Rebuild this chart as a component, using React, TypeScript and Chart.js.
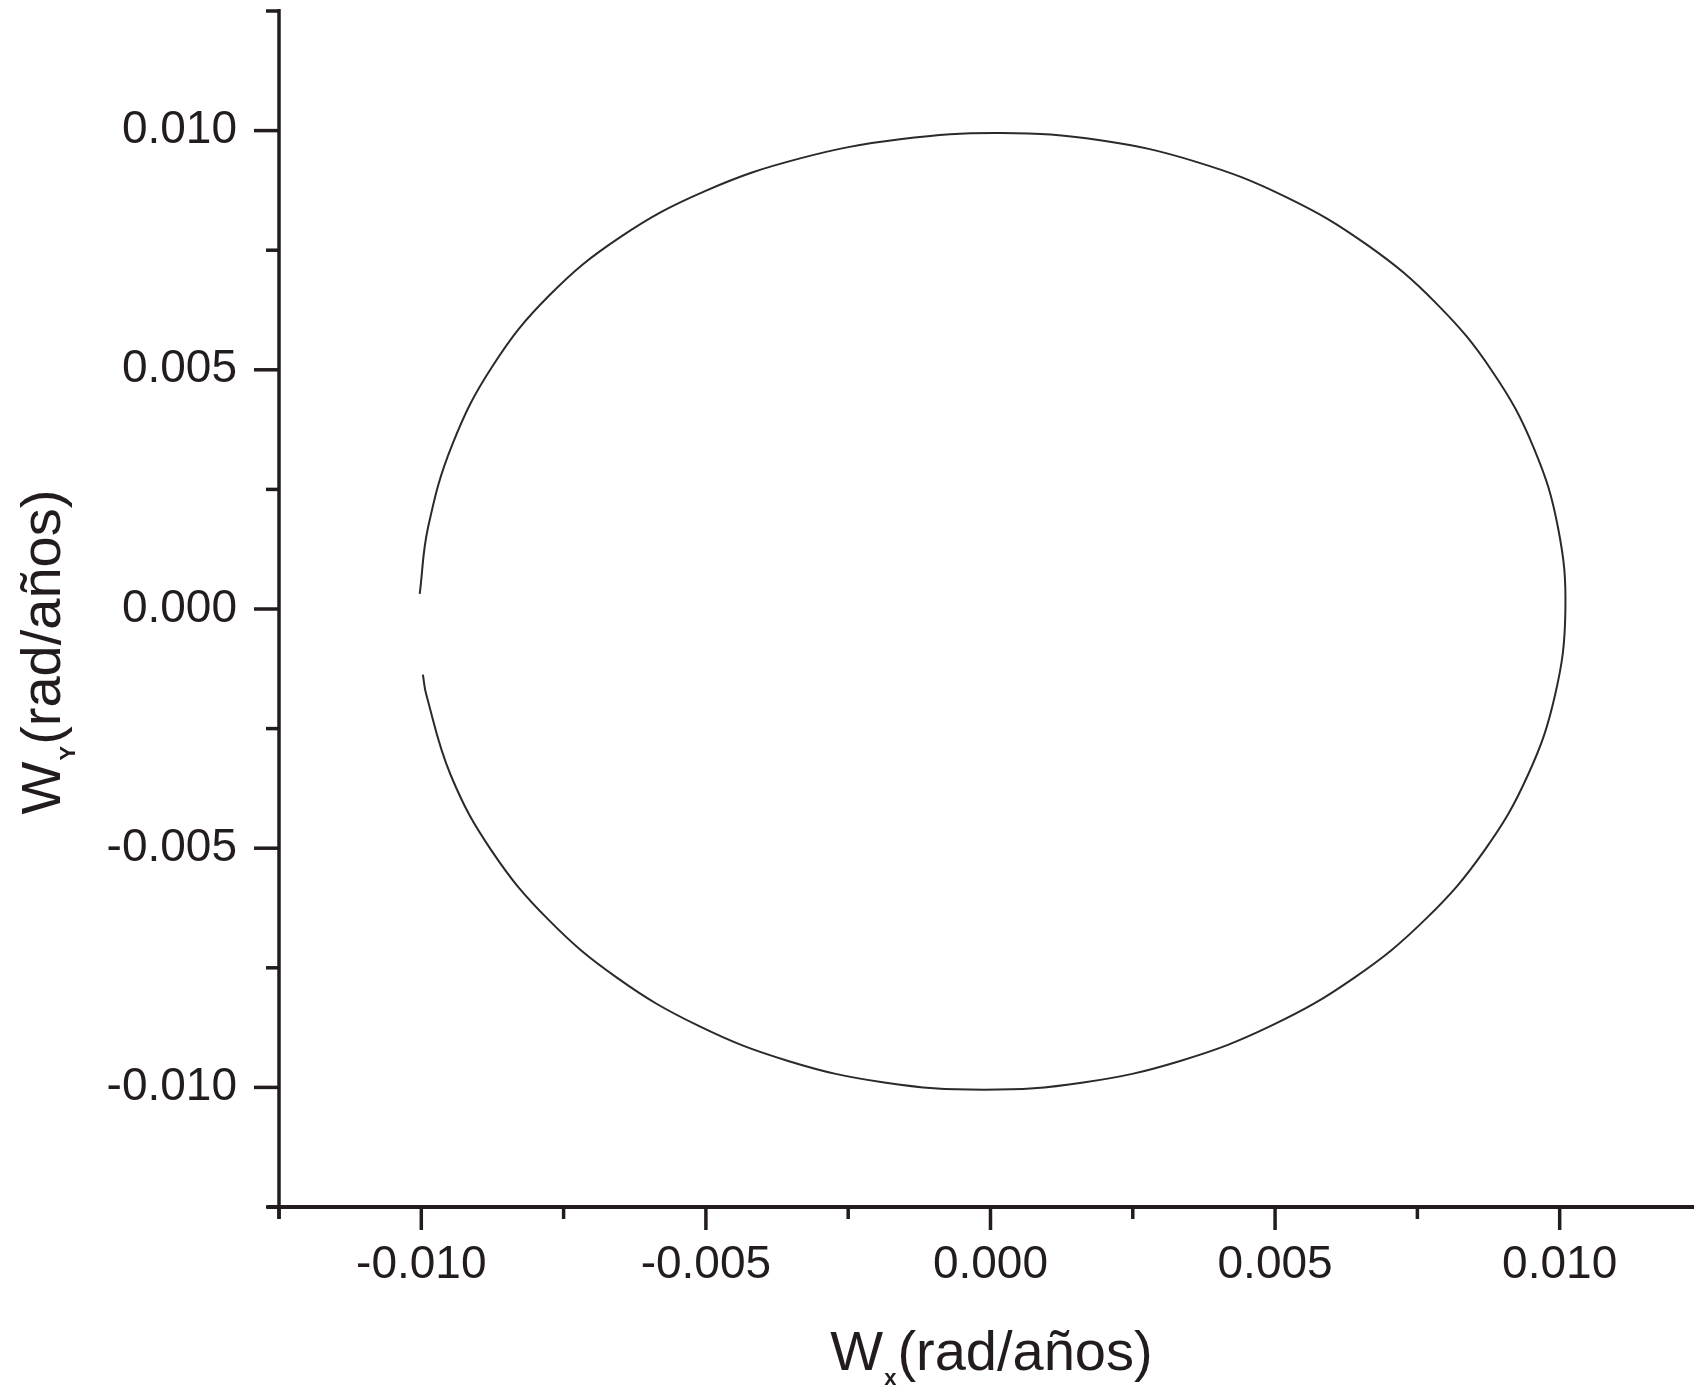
import React, { useEffect, useRef } from 'react';
import { Chart, registerables } from 'chart.js';

Chart.register(...registerables);

// Trajectory (clockwise, starting at the upper end of the gap on the left)
const WX = [
  -0.010028, -0.009881, -0.009454, -0.008747, -0.007758, -0.006498, -0.005006, -0.003345, -0.001591,
  0.00018, 0.001927, 0.003615, 0.005195, 0.006618, 0.00784, 0.008826, 0.009544, 0.009973,
  0.0101, 0.009921, 0.009442, 0.008676, 0.007648, 0.006388, 0.004935, 0.003333, 0.001631,
  -0.00012, -0.001867, -0.003555, -0.005135, -0.006558, -0.00778, -0.008766, -0.009484, -0.009913,
  -0.009972,
];
const WY = [
  0.000316, 0.001707, 0.003442, 0.005081, 0.006548, 0.00778, 0.008741, 0.009419, 0.009818,
  0.00995, 0.009798, 0.009347, 0.00861, 0.00761, 0.006378, 0.00495, 0.00337, 0.001687,
  -0.00005, -0.001787, -0.00347, -0.00505, -0.006478, -0.00771, -0.00871, -0.009447, -0.009898,
  -0.01005, -0.009898, -0.009447, -0.00871, -0.00771, -0.006478, -0.00505, -0.00347, -0.001787,
  -0.001373,
];

const X_MAJOR_TICKS = [-0.01, -0.005, 0, 0.005, 0.01];
const X_MINOR_TICKS = [-0.0125, -0.0075, -0.0025, 0.0025, 0.0075];
const Y_MAJOR_TICKS = [-0.01, -0.005, 0, 0.005, 0.01];
const Y_MINOR_TICKS = [-0.0125, -0.0075, -0.0025, 0.0025, 0.0075, 0.0125];

const X_MIN = -0.0125;
const X_MAX = 0.01236;
const Y_MIN = -0.0125;
const Y_MAX = 0.0125;

const X_TITLE = { main: 'W', sub: 'x', rest: '(rad/años)' };
const Y_TITLE = { main: 'W', sub: 'Y', rest: '(rad/años)' };

const FONT = "'Liberation Sans', Arial, Helvetica, sans-serif";
const INK = '#221c1e';

function drawTitle(ctx: CanvasRenderingContext2D, t: { main: string; sub: string; rest: string }, cx: number, base: number) {
  const mainFont = `56px ${FONT}`;
  const subFont = `bold 22px ${FONT}`;
  ctx.font = mainFont;
  const wMain = ctx.measureText(t.main).width;
  const wRest = ctx.measureText(t.rest).width;
  ctx.font = subFont;
  const wSub = ctx.measureText(t.sub).width;
  const gap = 1;
  const total = wMain + gap + wSub + gap + wRest;
  let xp = cx - total / 2;
  ctx.textAlign = 'left';
  ctx.textBaseline = 'alphabetic';
  ctx.fillStyle = INK;
  ctx.font = mainFont;
  ctx.fillText(t.main, xp, base);
  xp += wMain + gap;
  ctx.font = subFont;
  ctx.fillText(t.sub, xp, base + 15);
  xp += wSub + gap;
  ctx.font = mainFont;
  ctx.fillText(t.rest, xp, base);
}

const axesPlugin = {
  id: 'axesPlugin',
  afterDraw(chart: any) {
    const { ctx, chartArea: ca, scales } = chart;
    const xs = scales.x;
    const ys = scales.y;
    ctx.save();
    ctx.strokeStyle = INK;
    ctx.lineCap = 'butt';
    const seg = (x1: number, y1: number, x2: number, y2: number) => {
      ctx.beginPath();
      ctx.moveTo(x1, y1);
      ctx.lineTo(x2, y2);
      ctx.stroke();
    };
    // axis lines
    ctx.lineWidth = 4;
    seg(ca.left - 12, ca.bottom, ca.right, ca.bottom);
    ctx.lineWidth = 3.5;
    seg(ca.left, ca.top - 2, ca.left, ca.bottom + 12);
    // ticks
    ctx.lineWidth = 3.5;
    X_MAJOR_TICKS.forEach((v) => {
      const p = xs.getPixelForValue(v);
      seg(p, ca.bottom, p, ca.bottom + 23);
    });
    X_MINOR_TICKS.forEach((v) => {
      const p = xs.getPixelForValue(v);
      seg(p, ca.bottom, p, ca.bottom + 12);
    });
    Y_MAJOR_TICKS.forEach((v) => {
      const p = ys.getPixelForValue(v);
      seg(ca.left - 25, p, ca.left, p);
    });
    Y_MINOR_TICKS.forEach((v) => {
      const p = ys.getPixelForValue(v);
      seg(ca.left - 13, p, ca.left, p);
    });
    // axis titles
    drawTitle(ctx, X_TITLE, xs.getPixelForValue(0) + 1, 1370);
    ctx.translate(60, 652);
    ctx.rotate(-Math.PI / 2);
    drawTitle(ctx, Y_TITLE, 0, 0);
    ctx.restore();
  },
};

export default function App() {
  const ref = useRef<HTMLCanvasElement>(null);

  useEffect(() => {
    if (!ref.current) return;
    const points = WX.map((x, i) => ({ x, y: WY[i] }));
    const chart = new Chart(ref.current, {
      type: 'scatter',
      data: {
        datasets: [
          {
            data: points,
            showLine: true,
            borderColor: '#2a2a2a',
            borderWidth: 2,
            pointRadius: 0,
            tension: 0.4,
            fill: false,
          },
        ],
      },
      options: {
        responsive: false,
        devicePixelRatio: 1,
        animation: false,
        layout: { padding: { top: 11, left: 0, right: 0, bottom: 0 } },
        plugins: { legend: { display: false }, tooltip: { enabled: false } },
        scales: {
          x: {
            type: 'linear',
            position: 'bottom',
            min: X_MIN,
            max: X_MAX,
            grid: { display: false, drawTicks: false },
            border: { display: false },
            afterBuildTicks: (s: any) => {
              s.ticks = X_MAJOR_TICKS.map((v) => ({ value: v }));
            },
            afterFit: (s: any) => {
              s.height = 181;
              s.paddingLeft = 0;
              s.paddingRight = 0;
            },
            ticks: {
              callback: (v: any) => Number(v).toFixed(3),
              font: { size: 46, family: FONT },
              color: INK,
              padding: 31,
              maxRotation: 0,
              autoSkip: false,
            },
          },
          y: {
            type: 'linear',
            min: Y_MIN,
            max: Y_MAX,
            grid: { display: false, drawTicks: false },
            border: { display: false },
            afterBuildTicks: (s: any) => {
              s.ticks = Y_MAJOR_TICKS.map((v) => ({ value: v }));
            },
            afterFit: (s: any) => {
              s.width = 279;
              s.paddingTop = 0;
              s.paddingBottom = 0;
            },
            ticks: {
              callback: (v: any) => Number(v).toFixed(3),
              font: { size: 46, family: FONT },
              color: INK,
              padding: 42,
              autoSkip: false,
            },
          },
        },
      },
      plugins: [axesPlugin],
    } as any);
    return () => chart.destroy();
  }, []);

  return (
    <div style={{ position: 'fixed', left: 0, top: 0, width: 1694, height: 1388, background: '#ffffff' }}>
      <canvas ref={ref} width={1694} height={1388} style={{ display: 'block', width: 1694, height: 1388 }} />
    </div>
  );
}
